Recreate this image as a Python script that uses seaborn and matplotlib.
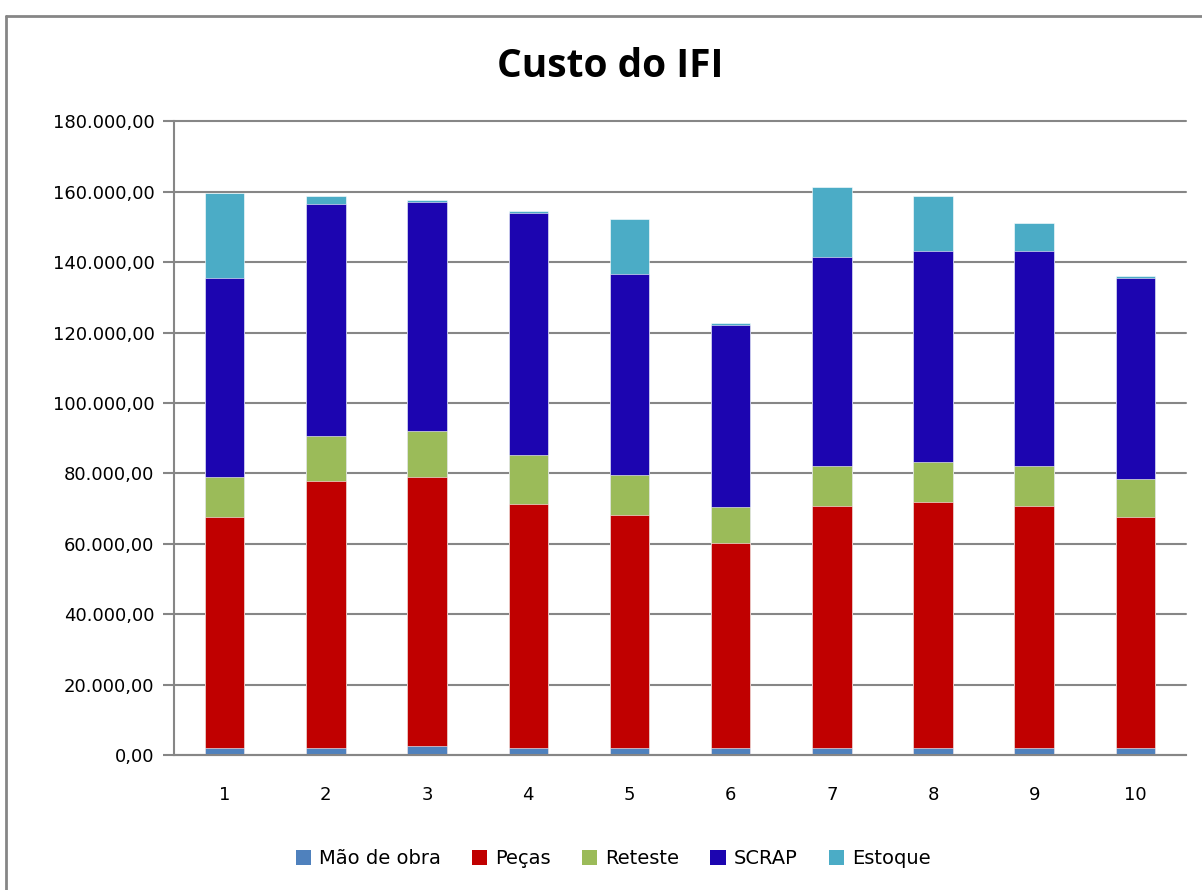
import numpy as np
import pandas as pd
import matplotlib
matplotlib.use("Agg")
import matplotlib.pyplot as plt
from matplotlib.lines import Line2D
from matplotlib.patches import Patch
from matplotlib.ticker import FuncFormatter, MultipleLocator
import seaborn as sns

# data
periodos = ["1", "2", "3", "4", "5", "6", "7", "8", "9", "10"]
mao_de_obra = [2000, 2000, 2600, 2000, 2000, 2000, 2000, 2000, 2000, 2000]
pecas = [65500, 75900, 76400, 69400, 66100, 58100, 68800, 70000, 68800, 65500]
reteste = [11500, 12600, 13100, 13700, 11400, 10300, 11400, 11200, 11400, 10900]
scrap = [56500, 66100, 65000, 68800, 57100, 51800, 59300, 59900, 60900, 57100]
estoque = [24300, 2100, 700, 600, 15800, 600, 20000, 15600, 8100, 600]

series = ["Mão de obra", "Peças", "Reteste", "SCRAP", "Estoque"]
cores = ["#4F81BD", "#C00000", "#9BBB59", "#1C05B0", "#4BACC6"]

df = pd.DataFrame({"periodo": periodos, "Mão de obra": mao_de_obra, "Peças": pecas,
                   "Reteste": reteste, "SCRAP": scrap, "Estoque": estoque})
acum = df[series].cumsum(axis=1)
acum["periodo"] = df["periodo"]

sns.set_style("white")
plt.rcParams["font.family"] = ["DejaVu Sans"]
plt.rcParams["text.color"] = "black"
plt.rcParams["xtick.labelcolor"] = "black"
plt.rcParams["ytick.labelcolor"] = "black"

fig = plt.figure(figsize=(12.02, 8.9), dpi=100)
ax = fig.add_axes([0.1448, 0.1517, 0.8419, 0.7118])

# stacked bars: draw cumulative totals from the top series down
for nome, cor in reversed(list(zip(series, cores))):
    sns.barplot(data=acum, x="periodo", y=nome, color=cor, width=0.39,
                saturation=1, edgecolor="white", linewidth=0.4, ax=ax)

ax.set_ylim(0, 180000)
ax.set_xlim(-0.5, 9.5)
ax.yaxis.set_major_locator(MultipleLocator(20000))
ax.yaxis.set_major_formatter(FuncFormatter(
    lambda v, p: f"{v:,.2f}".replace(",", "X").replace(".", ",").replace("X", ".")))
ax.grid(axis="y", color="#868686", linewidth=1.5, clip_on=False)
ax.set_axisbelow(True)
ax.set_xlabel("")
ax.set_ylabel("")

for s in ["top", "right"]:
    ax.spines[s].set_visible(False)
for s in ["left", "bottom"]:
    ax.spines[s].set_color("#868686")
    ax.spines[s].set_linewidth(1.5)

ax.set_xticks(range(len(periodos)))
ax.set_xticklabels(periodos)
ax.set_xticks(np.arange(-0.5, 10, 1), minor=True)
ax.tick_params(axis="x", which="major", length=0, pad=22, labelsize=13, labelcolor="black")
ax.tick_params(axis="x", which="minor", length=7, width=1.5, color="#868686", direction="out")
ax.tick_params(axis="y", length=8, width=1.5, color="#868686", direction="out",
               labelsize=13, pad=6, left=True, labelcolor="black")

fig.text(0.508, 0.925, "Custo do IFI", ha="center", va="center", color="black",
         fontsize=28, fontweight="bold", family="Open Sans")

handles = [Patch(facecolor=c, edgecolor="none") for c in cores]
fig.legend(handles, series, loc="center", bbox_to_anchor=(0.51, 0.035), ncol=5,
           frameon=False, fontsize=14, handlelength=0.8, handleheight=0.8,
           handletextpad=0.4, columnspacing=1.6, labelcolor="black")

# outer chart border
fig.add_artist(Line2D([6 / 1202, 6 / 1202], [0, 1 - 16 / 890], color="#868686", linewidth=2,
                      transform=fig.transFigure))
fig.add_artist(Line2D([6 / 1202, 1], [1 - 16 / 890, 1 - 16 / 890], color="#868686", linewidth=2,
                      transform=fig.transFigure))

fig.savefig("out.png", dpi=100)
